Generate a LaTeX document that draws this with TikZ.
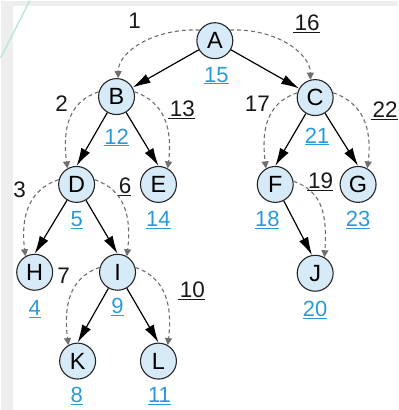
\documentclass[tikz,border=0pt]{standalone}
\usepackage{fontspec}
\setmainfont{Liberation Sans}
\usetikzlibrary{arrows.meta}
\definecolor{nodefill}{HTML}{D6EAF8}
\definecolor{numblue}{HTML}{2A9BDA}
\definecolor{dashgray}{HTML}{6E6E6E}
\definecolor{bggray}{HTML}{EEEEEE}
\definecolor{myteal}{HTML}{BFE5D8}
\begin{document}
\begin{tikzpicture}[x=1pt,y=-1pt,
  vert/.style={circle,draw=black!85,line width=1.1pt,fill=nodefill,minimum size=36pt,inner sep=0pt,font=\fontsize{23.5}{23.5}\selectfont},
  num/.style={text=numblue,font=\fontsize{22}{22}\selectfont,inner sep=0pt},
  lab/.style={text=black!90,font=\fontsize{22.5}{22.5}\selectfont,inner sep=0pt},
  tree/.style={draw=black,line width=1.2pt,-{Latex[length=18pt,width=10pt]}},
  tour/.style={draw=dashgray,line width=1.1pt,dash pattern=on 4pt off 3pt,-{Triangle[length=7pt,width=7pt]}},
]
\fill[bggray] (0,0) rectangle (398,410);
\fill[white] (12,5) rectangle (398,410);
\draw[myteal,line width=1.5pt] (0,57) -- (29,0);
\useasboundingbox (0,0) rectangle (398,410);

% vertices
\node[vert] (A) at (214.5,40) {A};
\node[vert] (B) at (116,96) {B};
\node[vert] (C) at (315,97) {C};
\node[vert] (D) at (76,184) {D};
\node[vert] (E) at (158,184) {E};
\node[vert] (F) at (275,184) {F};
\node[vert] (G) at (358,184) {G};
\node[vert] (H) at (34,272) {H};
\node[vert] (I) at (117,272) {I};
\node[vert] (J) at (315,273) {J};
\node[vert] (K) at (77,361) {K};
\node[vert] (L) at (158,361) {L};

% blue numbers
\node[num] (nA) at (216,75) {\underline{15}};
\node[num] (nB) at (116,137) {\underline{12}};
\node[num] (nC) at (317,136) {\underline{21}};
\node[num] (nD) at (76,220) {\underline{5}};
\node[num] (nE) at (158,220) {\underline{14}};
\node[num] (nF) at (267,220) {\underline{18}};
\node[num] (nG) at (358,220) {\underline{23}};
\node[num] (nH) at (34,309) {\underline{4}};
\node[num] (nI) at (117,307) {\underline{9}};
\node[num] (nJ) at (315,310) {\underline{20}};
\node[num] (nK) at (76,396) {\underline{8}};
\node[num] (nL) at (159,396) {\underline{11}};

% black labels
\node[lab] (l1) at (134,20) {1};
\node[lab] (l16) at (306,23) {\underline{\kern2pt 16}};
\node[lab] (l2) at (61,103) {2};
\node[lab] (l13) at (181,109) {\underline{\kern2pt 13}};
\node[lab] (l17) at (257,103) {17};
\node[lab] (l22) at (384,110) {\underline{\kern2pt 22}};
\node[lab] (l3) at (19,189) {3};
\node[lab] (l6) at (124,186) {\underline{\kern1pt 6}};
\node[lab] (l19) at (320,181) {\underline{\kern1pt 19}};
\node[lab] (l7) at (63,276) {7};
\node[lab] (l10) at (191,291) {\underline{\kern2pt 10}};

% tree edges
\draw[tree] (A) -- (B);
\draw[tree] (A) -- (C);
\draw[tree] (B) -- (D.north);
\draw[tree] (B) -- (E.north);
\draw[tree] (C) -- (F.north);
\draw[tree] (C) -- (G.north);
\draw[tree] (D) -- (H.north);
\draw[tree] (D) -- (I.north);
\draw[tree] (F) -- (J.100);
\draw[tree] (I) -- (K.north);
\draw[tree] (I) -- (L.north);

% tour arcs
\draw[tour] (A.145) .. controls +(-45,-2) and +(0,-27) .. (B.85);
\draw[tour] (A.35) .. controls +(45,-2) and +(0,-27) .. (C.105);
\draw[tour] (B.165) .. controls +(-30,10) and +(-5,-40) .. (D.120);
\draw[tour] (B.15) .. controls +(30,10) and +(5,-40) .. (E.60);
\draw[tour] (C.165) .. controls +(-30,10) and +(-5,-40) .. (F.120);
\draw[tour] (C.15) .. controls +(30,10) and +(5,-40) .. (G.60);
\draw[tour] (D.165) .. controls +(-30,10) and +(-5,-40) .. (H.120);
\draw[tour] (D.15) .. controls +(30,10) and +(5,-40) .. (I.60);
\draw[tour] (F.10) .. controls +(28,10) and +(3,-45) .. (J.60);
\draw[tour] (I.165) .. controls +(-30,10) and +(-5,-40) .. (K.120);
\draw[tour] (I.15) .. controls +(30,10) and +(5,-40) .. (L.60);
\end{tikzpicture}
\end{document}
